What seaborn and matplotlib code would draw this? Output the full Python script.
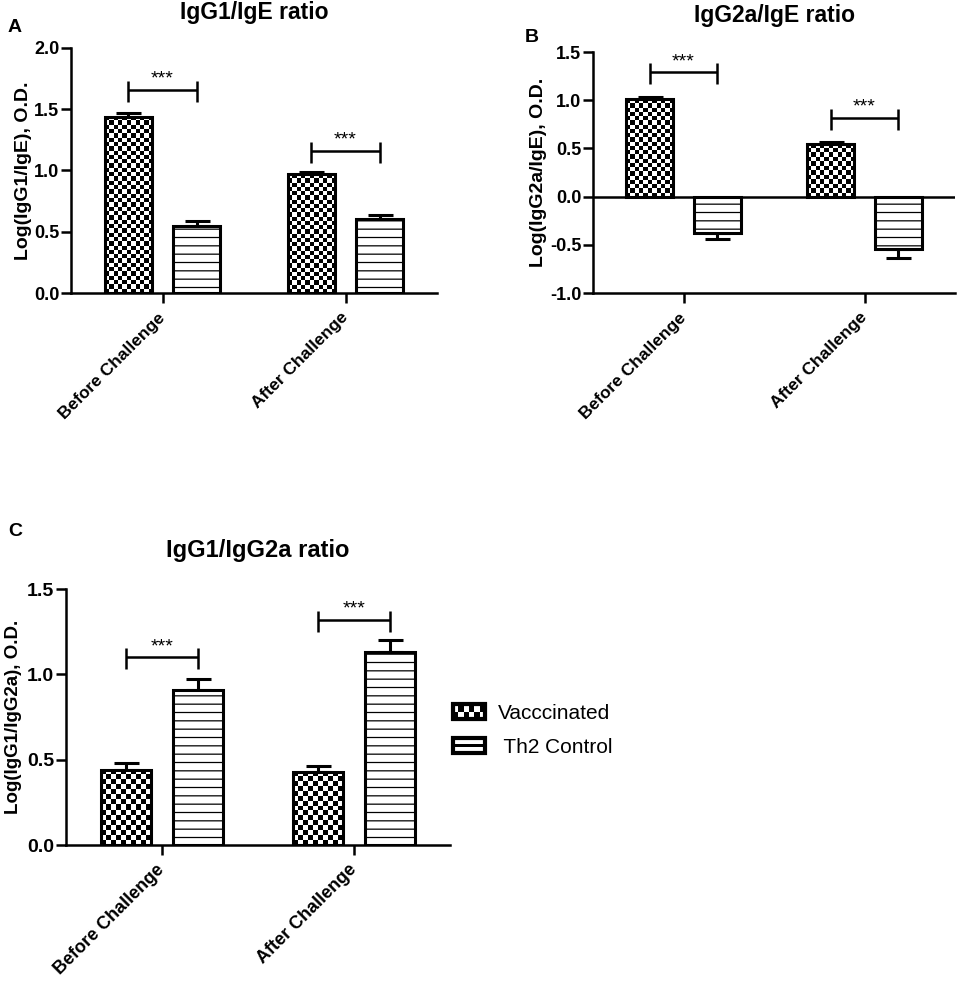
import numpy as np
import pandas as pd
import matplotlib
matplotlib.use("Agg")
import matplotlib.pyplot as plt
import seaborn as sns
from matplotlib.colors import ListedColormap
from matplotlib.patches import Rectangle, Patch
from matplotlib.legend_handler import HandlerBase

# ---- data ----
groups = ["Before Challenge", "After Challenge"]
treatments = ["Vacccinated", "Th2 Control"]

igg1_ige_vacc = [1.44, 0.97]
igg1_ige_vacc_err = [0.03, 0.02]
igg1_ige_th2 = [0.55, 0.60]
igg1_ige_th2_err = [0.04, 0.04]

igg2a_ige_vacc = [1.01, 0.55]
igg2a_ige_vacc_err = [0.02, 0.02]
igg2a_ige_th2 = [-0.38, -0.54]
igg2a_ige_th2_err = [0.06, 0.10]

igg1_igg2a_vacc = [0.44, 0.43]
igg1_igg2a_vacc_err = [0.04, 0.03]
igg1_igg2a_th2 = [0.91, 1.13]
igg1_igg2a_th2_err = [0.06, 0.07]

# height of the "***" brackets per group
brackets_a = [1.66, 1.16]
brackets_b = [1.29, 0.82]
brackets_c = [1.10, 1.32]

W, H = 961, 988
sns.set_style("ticks")
plt.rcParams["font.family"] = ["Liberation Sans", "DejaVu Sans"]
plt.rcParams["axes.unicode_minus"] = False
plt.rcParams["hatch.linewidth"] = 0.9
for key in ["text.color", "axes.labelcolor", "xtick.color", "ytick.color", "axes.edgecolor"]:
    plt.rcParams[key] = "black"

fig = plt.figure(figsize=(W / 100, H / 100), dpi=100)


def px_axes(x0, x1, ytop, ybot):
    return fig.add_axes([x0 / W, (H - ybot) / H, (x1 - x0) / W, (ybot - ytop) / H])


def make_df(vacc, th2):
    rows = []
    for g, v in zip(groups, vacc):
        rows.append((g, treatments[0], v))
    for g, v in zip(groups, th2):
        rows.append((g, treatments[1], v))
    return pd.DataFrame(rows, columns=["group", "treatment", "value"])


def checker(ax, bar, cell):
    bb = bar.get_window_extent()
    nx = max(1, int(round(bb.width / cell)))
    ny = max(1, int(round(bb.height / cell)))
    arr = np.indices((ny, nx)).sum(0) % 2
    y0, y1 = bar.get_y(), bar.get_y() + bar.get_height()
    im = ax.imshow(arr, cmap=ListedColormap(["black", "white"]),
                   extent=[bar.get_x(), bar.get_x() + bar.get_width(), min(y0, y1), max(y0, y1)],
                   origin="lower", interpolation="nearest", aspect="auto",
                   zorder=bar.get_zorder() - 0.05)
    im.set_clip_path(bar)
    bar.set_facecolor("none")


def panel(ax, vacc, vacc_err, th2, th2_err, brackets, ylim, yticks, ylabel, title,
          title_pad, ytick_size=13, xtick_size=12.5, ylabel_size=14, ylabel_right=None,
          title_size=16.5, cell=4.3, star_size=14):
    df = make_df(vacc, th2)
    sns.barplot(data=df, x="group", y="value", hue="treatment", order=groups,
                hue_order=treatments, palette=["white", "white"], saturation=1,
                edgecolor="black", linewidth=2.2, errorbar=None, width=0.744,
                gap=0.3, legend=False, ax=ax)
    ax.set_xlim(-0.5, 1.5)
    ax.set_ylim(*ylim)
    fig.canvas.draw()

    errs = [vacc_err, th2_err]
    centers = []
    bar_conts = list(ax.containers)
    for k, cont in enumerate(bar_conts):
        xs, tops, lo, hi = [], [], [], []
        for bar, e in zip(cont.patches, errs[k]):
            xc = bar.get_x() + bar.get_width() / 2
            h = bar.get_y() + bar.get_height()
            xs.append(xc)
            tops.append(h)
            lo.append(e if h < 0 else 0)
            hi.append(0 if h < 0 else e)
            if k == 0:
                checker(ax, bar, cell)
            else:
                bar.set_hatch("--")
        centers.append(xs)
        ax.errorbar(xs, tops, yerr=[lo, hi], fmt="none", ecolor="black",
                    elinewidth=2.2, capsize=9, capthick=2.2, zorder=0.8)

    ax.set_xlim(-0.5, 1.5)
    ax.set_ylim(*ylim)
    if ylim[0] < 0:
        ax.axhline(0, color="black", lw=1.8, zorder=2)

    # significance brackets
    bbox = ax.get_window_extent()
    dpp = (ylim[1] - ylim[0]) / bbox.height
    for i, hb in enumerate(brackets):
        xl, xr = centers[0][i], centers[1][i]
        ax.hlines(hb, xl, xr, color="black", lw=1.8)
        ax.vlines([xl, xr], hb - 12 * dpp, hb + 9 * dpp, color="black", lw=1.8)
        ax.text((xl + xr) / 2, hb + 2 * dpp, "***", ha="center", va="bottom",
                fontsize=star_size)

    sns.despine(ax=ax)
    for s in ["left", "bottom"]:
        ax.spines[s].set_linewidth(1.8)
    ax.set_yticks(yticks)
    ax.set_yticklabels([f"{t:.1f}" for t in yticks], fontweight="bold", fontsize=ytick_size)
    ax.set_xticks([0, 1])
    ax.set_xticklabels(groups, rotation=45, ha="right", va="center",
                       rotation_mode="anchor", fontweight="bold", fontsize=xtick_size)
    ax.tick_params(axis="both", direction="out", length=7, width=1.8, color="black")
    ax.tick_params(axis="y", pad=1.5)
    ax.tick_params(axis="x", pad=9)
    ax.set_xlabel("")
    ax.set_ylabel(ylabel, fontweight="bold", fontsize=ylabel_size)
    ax.yaxis.set_label_coords((ylabel_right - bbox.x0) / bbox.width, 0.5)
    ax.set_title(title, fontweight="bold", fontsize=title_size, pad=title_pad)


ax_a = px_axes(71, 437, 48, 293)
panel(ax_a, igg1_ige_vacc, igg1_ige_vacc_err, igg1_ige_th2, igg1_ige_th2_err,
      brackets_a, (0, 2.0), [0, 0.5, 1.0, 1.5, 2.0], "Log(IgG1/IgE), O.D.",
      "IgG1/IgE ratio", 21, ylabel_right=32)

ax_b = px_axes(593, 955, 52, 293)
panel(ax_b, igg2a_ige_vacc, igg2a_ige_vacc_err, igg2a_ige_th2, igg2a_ige_th2_err,
      brackets_b, (-1.0, 1.5), [-1.0, -0.5, 0, 0.5, 1.0, 1.5], "Log(IgG2a/IgE), O.D.",
      "IgG2a/IgE ratio", 21.5, ylabel_right=547)

ax_c = px_axes(66, 450, 589, 845)
panel(ax_c, igg1_igg2a_vacc, igg1_igg2a_vacc_err, igg1_igg2a_th2, igg1_igg2a_th2_err,
      brackets_c, (0, 1.5), [0, 0.5, 1.0, 1.5], "Log(IgG1/IgG2a), O.D.",
      "IgG1/IgG2a ratio", 23, ytick_size=14, xtick_size=13, ylabel_size=13.5,
      ylabel_right=22, title_size=17, cell=5.0, star_size=14)


class CheckerHandler(HandlerBase):
    def create_artists(self, legend, orig_handle, xdescent, ydescent, width, height,
                       fontsize, trans):
        arts = [Rectangle((-xdescent, -ydescent), width, height, facecolor="white",
                          edgecolor="black", lw=2.2, transform=trans)]
        nx, ny = 6, 2
        cw, ch = width / nx, height / ny
        for i in range(nx):
            for j in range(ny):
                if (i + j) % 2 == 0:
                    arts.append(Rectangle((-xdescent + i * cw, -ydescent + j * ch), cw, ch,
                                          facecolor="black", lw=0, transform=trans))
        arts.append(Rectangle((-xdescent, -ydescent), width, height, facecolor="none",
                              edgecolor="black", lw=3.0, transform=trans))
        return arts


class StripeHandler(HandlerBase):
    def create_artists(self, legend, orig_handle, xdescent, ydescent, width, height,
                       fontsize, trans):
        box = Rectangle((-xdescent, -ydescent), width, height, facecolor="white",
                        edgecolor="black", lw=3.0, transform=trans)
        mid = Rectangle((-xdescent, -ydescent + height / 2 - 1.0), width, 2.0,
                        facecolor="black", lw=0, transform=trans)
        return [box, mid]


h_vacc = Patch(label=treatments[0])
h_th2 = Patch(label=" " + treatments[1])
fig.legend(handles=[h_vacc, h_th2], labels=[treatments[0], " " + treatments[1]],
           handler_map={h_vacc: CheckerHandler(), h_th2: StripeHandler()},
           loc="upper left", bbox_to_anchor=(434 / W, 1 - 685 / H), frameon=False,
           prop={"size": 15}, handlelength=1.55, handleheight=0.77,
           labelspacing=0.72, handletextpad=0.6)

fig.text(8 / W, 1 - 27 / H, "A", fontweight="bold", fontsize=14, va="center")
fig.text(525 / W, 1 - 37 / H, "B", fontweight="bold", fontsize=14, va="center")
fig.text(8 / W, 1 - 532 / H, "C", fontweight="bold", fontsize=14, va="center")

fig.savefig("out.png", dpi=100)
